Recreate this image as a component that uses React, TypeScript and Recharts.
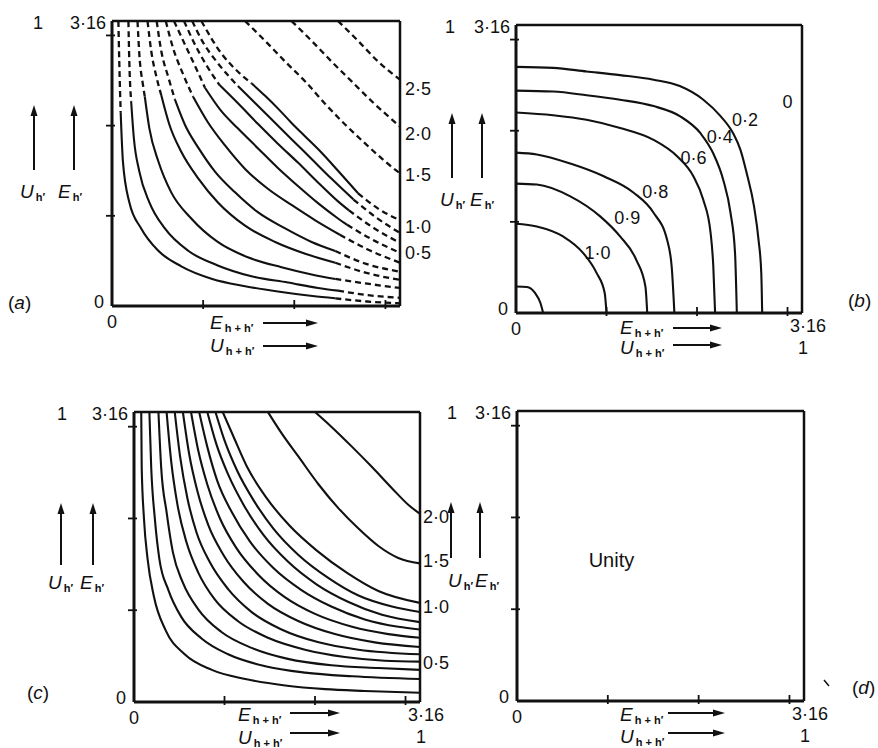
import React from "react";
import { LineChart, Line, XAxis, YAxis, ReferenceLine, ReferenceDot } from "recharts";

type Pt = [number, number];

const FONT = "'Liberation Sans', Arial, sans-serif";
const INK = "#111";
const W = 878;
const H = 748;
const DOMAIN: [number, number] = [0, 3.16];
const TICKS = [0, 1, 2, 3, 3.16];

// (a) inner contours: dashed lead-in, solid middle, dashed tail
const aInner: Pt[][] = [
  [[0.07, 3.16], [0.08, 2.7], [0.095, 2.15], [0.12, 1.6], [0.19, 1.15], [0.32, 0.86], [0.5, 0.62], [0.76, 0.44], [1.1, 0.3], [1.46, 0.22], [1.82, 0.16], [2.2, 0.11], [2.45, 0.085], [2.8, 0.05], [3.16, 0.03]],
  [[0.18, 3.16], [0.19, 2.71], [0.21, 2.27], [0.24, 1.86], [0.3, 1.49], [0.41, 1.15], [0.58, 0.86], [0.84, 0.61], [1.16, 0.45], [1.53, 0.33], [1.93, 0.26], [2.26, 0.2], [2.48, 0.17], [2.81, 0.12], [3.16, 0.09]],
  [[0.28, 3.16], [0.3, 2.79], [0.34, 2.45], [0.36, 2.32], [0.41, 1.97], [0.51, 1.6], [0.65, 1.26], [0.87, 0.97], [1.16, 0.71], [1.49, 0.54], [1.86, 0.43], [2.19, 0.35], [2.45, 0.3], [2.78, 0.25], [3.16, 0.2]],
  [[0.39, 3.16], [0.43, 2.83], [0.49, 2.53], [0.54, 2.34], [0.63, 2.01], [0.76, 1.71], [0.95, 1.41], [1.16, 1.15], [1.46, 0.89], [1.79, 0.71], [2.12, 0.58], [2.45, 0.48], [2.78, 0.37], [3.16, 0.29]],
  [[0.49, 3.16], [0.54, 2.83], [0.62, 2.53], [0.69, 2.29], [0.8, 2.01], [0.95, 1.75], [1.13, 1.49], [1.35, 1.26], [1.6, 1.04], [1.9, 0.86], [2.19, 0.71], [2.45, 0.61], [2.78, 0.47], [3.16, 0.38]],
  [[0.59, 3.16], [0.67, 2.86], [0.78, 2.57], [0.89, 2.32], [1.05, 2.04], [1.24, 1.78], [1.46, 1.52], [1.71, 1.3], [1.97, 1.12], [2.23, 0.95], [2.5, 0.79], [2.8, 0.63], [3.16, 0.48]],
  [[0.68, 3.16], [0.8, 2.9], [0.93, 2.62], [1.02, 2.42], [1.2, 2.16], [1.38, 1.97], [1.6, 1.75], [1.82, 1.53], [2.04, 1.33], [2.26, 1.14], [2.48, 0.97], [2.58, 0.9], [2.85, 0.74], [3.16, 0.59]],
  [[0.79, 3.16], [0.9, 2.92], [1.03, 2.68], [1.18, 2.45], [1.38, 2.25], [1.6, 2.02], [1.82, 1.8], [2.04, 1.59], [2.26, 1.37], [2.48, 1.16], [2.6, 1.06], [2.88, 0.86], [3.16, 0.7]],
  [[0.88, 3.16], [1.0, 2.92], [1.14, 2.72], [1.28, 2.55], [1.38, 2.44], [1.57, 2.25], [1.75, 2.07], [1.97, 1.85], [2.19, 1.63], [2.41, 1.41], [2.65, 1.18], [2.9, 0.98], [3.16, 0.81]],
  [[0.98, 3.16], [1.2, 2.8], [1.38, 2.6], [1.53, 2.47], [1.68, 2.33], [1.83, 2.18], [1.97, 2.03], [2.12, 1.88], [2.3, 1.7], [2.48, 1.5], [2.7, 1.25], [2.92, 1.08], [3.16, 0.95]],
];
// first / last index of the solid stretch of each curve above
const aSolid: [number, number][] = [
  [2, 12], [2, 12], [3, 12], [3, 11], [3, 11], [3, 10], [3, 11], [3, 10], [4, 10], [3, 10],
];
const aOuter: Pt[][] = [
  [[1.46, 3.16], [1.68, 2.94], [1.9, 2.71], [2.12, 2.49], [2.34, 2.24], [2.56, 2.01], [2.78, 1.8], [3.0, 1.6], [3.16, 1.47]],
  [[1.97, 3.16], [2.19, 2.94], [2.41, 2.71], [2.63, 2.49], [2.85, 2.27], [3.16, 1.99]],
  [[2.48, 3.16], [2.7, 2.94], [2.92, 2.71], [3.16, 2.51]],
];
const aTags = [
  { x: 3.16, y: 2.41, text: "2·5" },
  { x: 3.16, y: 1.91, text: "2·0" },
  { x: 3.16, y: 1.45, text: "1·5" },
  { x: 3.16, y: 0.88, text: "1·0" },
  { x: 3.16, y: 0.59, text: "0·5" },
];

// (b) contours 0.2 ... 1.0 and the small one at the origin
const bCurves: Pt[][] = [
  [[0, 2.7], [0.41, 2.69], [0.78, 2.65], [1.15, 2.61], [1.52, 2.56], [1.81, 2.49], [2.07, 2.34], [2.26, 2.16], [2.4, 1.97], [2.48, 1.79], [2.55, 1.53], [2.63, 1.17], [2.68, 0.8], [2.71, 0.44], [2.72, 0]],
  [[0, 2.44], [0.41, 2.43], [0.78, 2.39], [1.15, 2.34], [1.52, 2.27], [1.81, 2.16], [2.04, 1.97], [2.18, 1.75], [2.29, 1.46], [2.37, 1.1], [2.42, 0.66], [2.44, 0]],
  [[0, 2.2], [0.41, 2.17], [0.78, 2.12], [1.15, 2.03], [1.52, 1.9], [1.78, 1.72], [1.96, 1.5], [2.07, 1.24], [2.15, 0.88], [2.18, 0.51], [2.2, 0]],
  [[0, 1.76], [0.23, 1.74], [0.6, 1.64], [0.97, 1.5], [1.3, 1.32], [1.52, 1.1], [1.67, 0.8], [1.72, 0.51], [1.75, 0]],
  [[0, 1.42], [0.23, 1.41], [0.6, 1.28], [0.93, 1.06], [1.15, 0.84], [1.33, 0.58], [1.43, 0.29], [1.45, 0]],
  [[0, 0.98], [0.23, 0.95], [0.52, 0.84], [0.74, 0.66], [0.89, 0.44], [0.98, 0.22], [1.0, 0]],
  [[0, 0.29], [0.12, 0.285], [0.21, 0.22], [0.27, 0.11], [0.3, 0]],
];
const bTags = [
  { x: 2.53, y: 2.12, text: "0·2" },
  { x: 2.25, y: 1.93, text: "0·4" },
  { x: 1.96, y: 1.7, text: "0·6" },
  { x: 1.54, y: 1.33, text: "0·8" },
  { x: 1.23, y: 1.04, text: "0·9" },
  { x: 0.9, y: 0.66, text: "1·0" },
  { x: 3.0, y: 2.32, text: "0" },
];

// (c) contours, all solid
const cCurves: Pt[][] = [
  [[0.08, 3.16], [0.085, 2.56], [0.11, 2.0], [0.15, 1.56], [0.22, 1.15], [0.35, 0.78], [0.56, 0.52], [0.86, 0.35], [1.23, 0.25], [1.67, 0.18], [2.11, 0.14], [2.55, 0.12], [3.16, 0.1]],
  [[0.17, 3.16], [0.19, 2.56], [0.23, 2.0], [0.28, 1.56], [0.38, 1.22], [0.52, 0.93], [0.75, 0.69], [1.04, 0.52], [1.45, 0.39], [1.89, 0.32], [2.41, 0.28], [3.16, 0.25]],
  [[0.27, 3.16], [0.3, 2.56], [0.36, 2.07], [0.43, 1.63], [0.54, 1.3], [0.71, 1.01], [0.97, 0.76], [1.3, 0.59], [1.7, 0.47], [2.18, 0.4], [2.7, 0.37], [3.16, 0.35]],
  [[0.36, 3.16], [0.41, 2.63], [0.48, 2.15], [0.58, 1.74], [0.71, 1.41], [0.89, 1.12], [1.15, 0.88], [1.48, 0.7], [1.89, 0.57], [2.33, 0.49], [2.77, 0.45], [3.16, 0.44]],
  [[0.45, 3.16], [0.51, 2.67], [0.59, 2.22], [0.69, 1.85], [0.84, 1.52], [1.04, 1.23], [1.3, 0.98], [1.63, 0.79], [2.04, 0.65], [2.48, 0.57], [3.16, 0.52]],
  [[0.54, 3.16], [0.61, 2.7], [0.7, 2.3], [0.82, 1.93], [0.99, 1.6], [1.21, 1.31], [1.48, 1.07], [1.82, 0.88], [2.22, 0.74], [2.66, 0.65], [3.16, 0.6]],
  [[0.63, 3.16], [0.71, 2.74], [0.81, 2.37], [0.95, 2.0], [1.13, 1.68], [1.37, 1.39], [1.67, 1.14], [2.0, 0.96], [2.41, 0.82], [2.81, 0.74], [3.16, 0.7]],
  [[0.72, 3.16], [0.81, 2.78], [0.92, 2.41], [1.08, 2.07], [1.28, 1.75], [1.54, 1.46], [1.85, 1.22], [2.18, 1.04], [2.55, 0.9], [2.92, 0.82], [3.16, 0.79]],
  [[0.81, 3.16], [0.91, 2.81], [1.04, 2.48], [1.21, 2.15], [1.43, 1.82], [1.7, 1.53], [2.02, 1.28], [2.37, 1.09], [2.74, 0.95], [3.16, 0.87]],
  [[0.9, 3.16], [1.0, 2.85], [1.14, 2.52], [1.32, 2.2], [1.54, 1.89], [1.82, 1.6], [2.15, 1.35], [2.48, 1.16], [2.85, 1.04], [3.16, 0.98]],
  [[0.98, 3.16], [1.1, 2.89], [1.25, 2.56], [1.46, 2.23], [1.72, 1.92], [2.02, 1.65], [2.35, 1.41], [2.7, 1.21], [3.16, 1.08]],
  [[1.48, 3.16], [1.63, 2.93], [1.82, 2.67], [2.04, 2.37], [2.26, 2.11], [2.48, 1.89], [2.7, 1.7], [2.92, 1.57], [3.16, 1.51]],
  [[2.0, 3.16], [2.18, 3.0], [2.41, 2.78], [2.63, 2.56], [2.85, 2.33], [3.03, 2.15], [3.16, 2.05]],
];
const cTags = [
  { x: 3.16, y: 2.02, text: "2·0" },
  { x: 3.16, y: 1.54, text: "1·5" },
  { x: 3.16, y: 1.04, text: "1·0" },
  { x: 3.16, y: 0.43, text: "0·5" },
];

// (d) is flat
const dTags = [{ x: 1.04, y: 1.54, text: "Unity" }];

const TXT: React.CSSProperties = { fontFamily: FONT, fontSize: 18, fill: INK };

type Box = { left: number; top: number; right: number; bottom: number };

const A_BOX: Box = { left: 112, top: 21, right: 400, bottom: 306 };
const B_BOX: Box = { left: 516, top: 25, right: 802, bottom: 313 };
const C_BOX: Box = { left: 134, top: 412, right: 420, bottom: 702 };
const D_BOX: Box = { left: 517, top: 411, right: 804, bottom: 701 };

const rows = (pts: Pt[]) => pts.map(([x, y]) => ({ x, y }));

function curve(key: string, pts: Pt[], dashed: boolean) {
  return (
    <Line
      key={key}
      data={rows(pts)}
      dataKey="y"
      type="monotone"
      stroke={INK}
      strokeWidth={dashed ? 2.3 : 2.1}
      strokeDasharray={dashed ? "6 4" : undefined}
      dot={false}
      activeDot={false}
      isAnimationActive={false}
    />
  );
}

function tag(t: { x: number; y: number; text: string }, i: number, anchor: "start" | "middle", dx: number, size = 18) {
  return (
    <ReferenceDot
      key={`tag${i}`}
      x={t.x}
      y={t.y}
      r={0}
      ifOverflow="visible"
      shape={(p: any) => (
        <text x={p.cx + dx} y={p.cy} textAnchor={anchor} dominantBaseline="central" style={{ ...TXT, fontSize: size }}>
          {t.text}
        </text>
      )}
    />
  );
}

function YTick(props: any) {
  const { x, y, payload, oneDx } = props;
  const v = payload.value;
  if (v === 0) {
    return <text x={x - 13} y={y - 4} textAnchor="middle" dominantBaseline="central" style={TXT}>0</text>;
  }
  if (v === 3.16) {
    return (
      <g>
        <text x={x - 6} y={y + 2} textAnchor="end" dominantBaseline="central" style={TXT}>3·16</text>
        <text x={x + oneDx} y={y + 2} textAnchor="middle" dominantBaseline="central" style={TXT}>1</text>
      </g>
    );
  }
  return <line x1={x - 6} x2={x + 3} y1={y} y2={y} stroke={INK} strokeWidth={1.8} />;
}

function XTick(props: any) {
  const { x, y, payload, endLabels } = props;
  const v = payload.value;
  if (v === 0) {
    return <text x={x} y={y + 16} textAnchor="middle" dominantBaseline="central" style={TXT}>0</text>;
  }
  if (v === 3.16) {
    if (!endLabels) return <g />;
    return (
      <g>
        <text x={x + 6} y={y + 13} textAnchor="middle" dominantBaseline="central" style={TXT}>3·16</text>
        <text x={x + 1} y={y + 35} textAnchor="middle" dominantBaseline="central" style={TXT}>1</text>
      </g>
    );
  }
  return <line x1={x} x2={x} y1={y - 6} y2={y + 3} stroke={INK} strokeWidth={1.8} />;
}

// axes need a non-zero size to draw, so give them 1px and take it off the margins
function Panel({ box, oneDx, endLabels, children }: { box: Box; oneDx: number; endLabels: boolean; children?: React.ReactNode }) {
  return (
    <div style={{ position: "absolute", left: 0, top: 0 }}>
      <LineChart
        width={W}
        height={H}
        margin={{ left: box.left - 1, top: box.top, right: W - box.right, bottom: H - box.bottom - 1 }}
      >
        <XAxis
          type="number"
          dataKey="x"
          domain={DOMAIN}
          ticks={TICKS}
          interval={0}
          height={1}
          tickSize={0}
          tickMargin={0}
          allowDataOverflow
          axisLine={{ stroke: INK, strokeWidth: 3 }}
          tickLine={false}
          tick={(p: any) => <XTick {...p} endLabels={endLabels} />}
        />
        <YAxis
          type="number"
          domain={DOMAIN}
          ticks={TICKS}
          interval={0}
          width={1}
          tickSize={0}
          tickMargin={0}
          allowDataOverflow
          axisLine={{ stroke: INK, strokeWidth: 3 }}
          tickLine={false}
          tick={(p: any) => <YTick {...p} oneDx={oneDx} />}
        />
        <ReferenceLine y={3.16} stroke={INK} strokeWidth={2.5} />
        <ReferenceLine x={3.16} stroke={INK} strokeWidth={2.5} />
        {children}
      </LineChart>
    </div>
  );
}

function Sym({ x, y, main, sub }: { x: number; y: number; main: string; sub: string }) {
  return (
    <text x={x} y={y} fontFamily={FONT} fontSize={19} fill={INK}>
      <tspan fontStyle="italic">{main}</tspan>
      <tspan fontSize={11} fontWeight="bold" dx={2} dy={3}>{sub}</tspan>
    </text>
  );
}

function UpArrow({ x, top, bottom }: { x: number; top: number; bottom: number }) {
  return (
    <g>
      <line x1={x} x2={x} y1={bottom} y2={top + 8} stroke={INK} strokeWidth={2} />
      <path d={`M${x - 3.5},${top + 11} L${x},${top} L${x + 3.5},${top + 11} Z`} fill={INK} />
    </g>
  );
}

function RightArrow({ x1, x2, y }: { x1: number; x2: number; y: number }) {
  return (
    <g>
      <line x1={x1} x2={x2 - 8} y1={y} y2={y} stroke={INK} strokeWidth={2} />
      <path d={`M${x2 - 12},${y - 3.5} L${x2},${y} L${x2 - 12},${y + 3.5} Z`} fill={INK} />
    </g>
  );
}

const DECOR = [
  { letter: "a", lx: 8, ly: 309, ax: [34, 74], aTop: 105, aBot: 170, sy: 198, ux: 20, ex: 58, bx: 210, by1: 329, by2: 352, hx1: 263, hx2: 318, hy1: 323, hy2: 346 },
  { letter: "b", lx: 848, ly: 307, ax: [452, 482], aTop: 113, aBot: 178, sy: 206, ux: 440, ex: 470, bx: 620, by1: 334, by2: 354, hx1: 673, hx2: 722, hy1: 328, hy2: 345 },
  { letter: "c", lx: 27, ly: 699, ax: [61, 93], aTop: 503, aBot: 565, sy: 589, ux: 48, ex: 80, bx: 238, by1: 721, by2: 744, hx1: 290, hx2: 340, hy1: 713, hy2: 733 },
  { letter: "d", lx: 852, ly: 694, ax: [451, 480], aTop: 502, aBot: 558, sy: 587, ux: 448, ex: 475, bx: 620, by1: 721, by2: 743, hx1: 668, hx2: 725, hy1: 713, hy2: 733 },
];

function Decor() {
  return (
    <svg width={W} height={H} style={{ position: "absolute", left: 0, top: 0, pointerEvents: "none" }}>
      {DECOR.map((d) => (
        <g key={d.letter}>
          <text x={d.lx} y={d.ly} fontFamily={FONT} fontSize={19} fill={INK}>
            (<tspan fontStyle="italic">{d.letter}</tspan>)
          </text>
          <UpArrow x={d.ax[0]} top={d.aTop} bottom={d.aBot} />
          <UpArrow x={d.ax[1]} top={d.aTop} bottom={d.aBot} />
          <Sym x={d.ux} y={d.sy} main="U" sub="h′" />
          <Sym x={d.ex} y={d.sy} main="E" sub="h′" />
          <Sym x={d.bx} y={d.by1} main="E" sub="h + h′" />
          <Sym x={d.bx} y={d.by2} main="U" sub="h + h′" />
          <RightArrow x1={d.hx1} x2={d.hx2} y={d.hy1} />
          <RightArrow x1={d.hx1} x2={d.hx2} y={d.hy2} />
        </g>
      ))}
      <line x1={824} y1={680} x2={829} y2={686} stroke={INK} strokeWidth={1.5} />
    </svg>
  );
}

export default function App() {
  return (
    <div style={{ position: "relative", width: W, height: H, background: "#fff", overflow: "hidden", fontFamily: FONT }}>
      <style>{"body{margin:0}"}</style>
      <Panel box={A_BOX} oneDx={-74} endLabels={false}>
        {aInner.flatMap((pts, i) => {
          const [s, e] = aSolid[i];
          return [
            curve(`a${i}t`, pts.slice(0, s + 1), true),
            curve(`a${i}m`, pts.slice(s, e + 1), false),
            curve(`a${i}e`, pts.slice(e), true),
          ];
        })}
        {aOuter.map((pts, i) => curve(`ao${i}`, pts, true))}
        {aTags.map((t, i) => tag(t, i, "start", 5))}
      </Panel>
      <Panel box={B_BOX} oneDx={-66} endLabels>
        {bCurves.map((pts, i) => curve(`b${i}`, pts, false))}
        {bTags.map((t, i) => tag(t, i, "middle", 0))}
      </Panel>
      <Panel box={C_BOX} oneDx={-72} endLabels>
        {cCurves.map((pts, i) => curve(`c${i}`, pts, false))}
        {cTags.map((t, i) => tag(t, i, "start", 3))}
      </Panel>
      <Panel box={D_BOX} oneDx={-65} endLabels>
        {dTags.map((t, i) => tag(t, i, "middle", 0, 20))}
      </Panel>
      <Decor />
    </div>
  );
}
